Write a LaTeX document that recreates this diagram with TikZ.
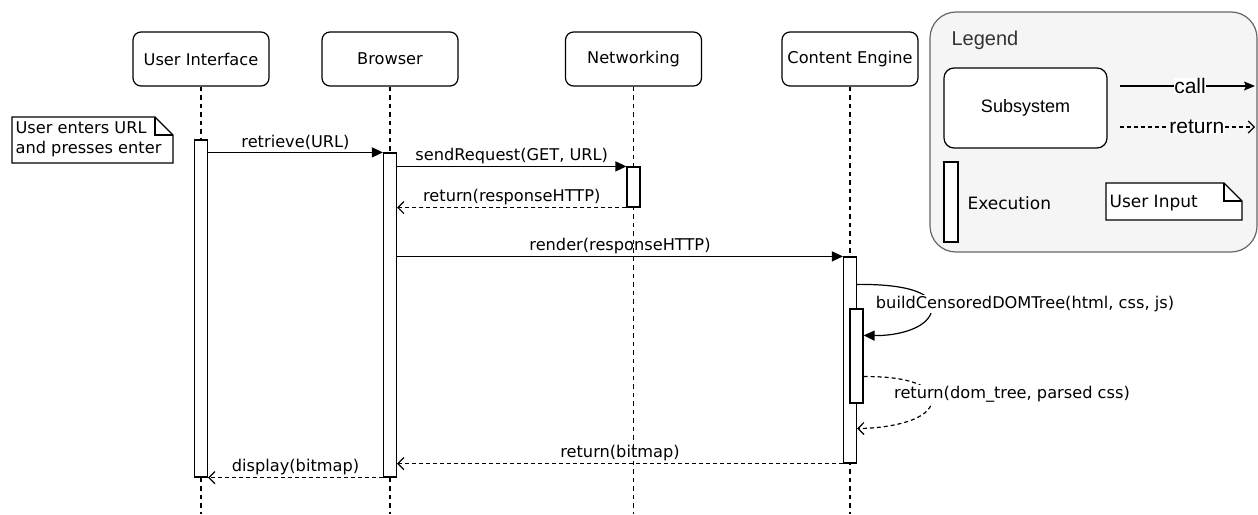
\documentclass[tikz,border=0pt]{standalone}
\usepackage{fontspec}
\setmainfont{DejaVu Sans}
\newfontfamily\arialf{Liberation Sans}
\usetikzlibrary{arrows.meta,calc}

\tikzset{
  lbl/.style={font=\fontsize{16.2}{19}\selectfont, inner sep=1pt},
  head/.style={draw, rounded corners=8pt, fill=white, minimum width=136pt,
    minimum height=54pt, inner sep=0pt, font=\fontsize{16.2}{19}\selectfont},
  lifeline/.style={line width=1.1pt, dash pattern=on 4.5pt off 4pt},
  bar/.style={draw, fill=white, minimum width=13pt, inner sep=0pt},
  call/.style={-{Triangle[length=11pt,width=10pt]}},
  ret/.style={dash pattern=on 4pt off 3pt, -{Straight Barb[length=6pt,width=12pt]}},
  whitebg/.style={fill=white, inner sep=1pt},
}

\begin{document}
\begin{tikzpicture}[x=1pt, y=-1pt, line width=1.2pt, line join=miter]
\useasboundingbox (0,0) rectangle (1258,514);

% ---- lifeline heads ----
\node[head] (ui)  at (201,59) {User Interface};
\node[head] (br)  at (390,59) {Browser};
\node[head] (net) at (633.5,59) {Networking};
\node[head] (ce)  at (850,59) {Content Engine};

% ---- lifelines ----
\coordinate (uiEnd)  at (201,514);
\coordinate (brEnd)  at (390,514);
\coordinate (netEnd) at (633.5,514);
\coordinate (ceEnd)  at (850,514);
\draw[lifeline] (ui.south) -- (uiEnd);
\draw[lifeline] (br.south) -- (brEnd);
\draw[lifeline] (net.south) -- (netEnd);
\draw[lifeline] (ce.south) -- (ceEnd);

% ---- execution bars ----
\node[bar, minimum height=337pt] (uiBar)  at (201,308.5) {};
\node[bar, minimum height=324pt] (brBar)  at (390,315) {};
\node[bar, minimum height=40pt]  (netBar) at (633.5,187) {};
\node[bar, minimum height=206pt] (ceBar)  at (850,360) {};
\node[bar, minimum height=94pt]  (nestBar) at (856.5,356) {};

% ---- user input note ----
\draw[fill=white] (12,117) -- (155,117) -- (173,135) -- (173,163) -- (12,163) -- cycle;
\draw (155,117) -- (155,135) -- (173,135);
\node[lbl, anchor=west, align=left, inner sep=0pt] (note) at (15,139.5)
  {User enters URL\\[1.5pt]and presses enter};

% ---- messages ----
\draw[call] (uiBar.east |- brBar.north) -- node[lbl, above=1pt] {retrieve(URL)} (brBar.north west);
\draw[call] (brBar.east |- netBar.north) -- node[lbl, above=1pt] {sendRequest(GET, URL)} (netBar.north west);
\draw[ret] (netBar.south west) -- node[lbl, above=1pt] {return(responseHTTP)} (brBar.east |- netBar.south);
\draw[call] (brBar.east |- ceBar.north) -- node[lbl, above=1pt] {render(responseHTTP)} (ceBar.north west);

% self call: buildCensoredDOMTree
\coordinate (bcS) at ($(ceBar.north east)+(0,28)$);
\coordinate (bcE) at ($(nestBar.north east)+(0,27)$);
\draw[call] (bcS) .. controls (910,284) and (934,294) .. (932,309)
  .. controls (930,328) and (898,336) .. (bcE);
\node[lbl, whitebg] (bcLbl) at (1025,304) {buildCensoredDOMTree(html, css, js)};

% self return: dom_tree
\coordinate (rdS) at ($(nestBar.south east)+(0,-27)$);
\coordinate (rdE) at ($(ceBar.south east)+(0,-35)$);
\draw[ret] (rdS) .. controls (908,376) and (934,386) .. (932,401)
  .. controls (930,420) and (892,428) .. (rdE);
\node[lbl, whitebg] (rdLbl) at (1012,394) {return(dom\_tree, parsed css)};

\draw[ret] (ceBar.south west) -- node[lbl, above=1pt] {return(bitmap)} (brBar.east |- ceBar.south);
\draw[ret] (brBar.south west) -- node[lbl, above=1pt] {display(bitmap)} (uiBar.south east);

% ---- legend ----
\draw[draw=black!60, fill=black!4, rounded corners=26pt] (930,12) rectangle (1257,252);
\node[anchor=west, inner sep=0pt, text=black!80, font=\arialf\fontsize{20}{24}\selectfont] (legT) at (951,40) {Legend};
\node[draw, fill=white, rounded corners=10pt, minimum width=163pt, minimum height=80pt,
  inner sep=0pt, font=\arialf\fontsize{18}{22}\selectfont] (sub) at (1025.5,108) {Subsystem};
\coordinate (callE) at (1255,86);
\coordinate (retE) at (1255,127);
\draw[-{Stealth[length=11pt,width=9pt,inset=2pt]}] (sub.east |- callE) ++(12,0) coordinate (callS) -- node[whitebg, inner sep=0.5pt, font=\arialf\fontsize{21}{24}\selectfont, pos=0.52] {call} (callE);
\draw[ret] (sub.east |- retE) ++(12,0) coordinate (retS) -- node[whitebg, inner sep=0.5pt, font=\arialf\fontsize{21}{24}\selectfont, pos=0.57] {return} (retE);
\node[bar, minimum width=14pt, minimum height=80pt] (exBar) at (951,202) {};
\node[lbl, anchor=west, font=\fontsize{17}{20}\selectfont] (exT) at (966,203) {Execution};
\draw[fill=white] (1106,183) -- (1224,183) -- (1242,201) -- (1242,220) -- (1106,220) -- cycle;
\draw (1224,183) -- (1224,201) -- (1242,201);
\node[lbl, anchor=west, font=\fontsize{17}{20}\selectfont, inner sep=0pt] (uiT) at (1109,203) {User Input};
\end{tikzpicture}
\end{document}
